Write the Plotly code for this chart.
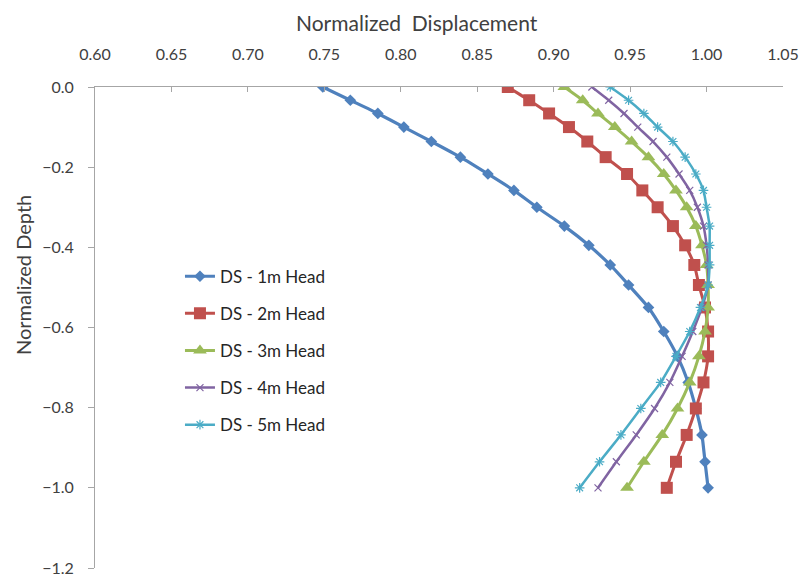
import plotly.graph_objects as go

depth = [0, -0.033, -0.066, -0.10, -0.136, -0.175, -0.217, -0.258, -0.30, -0.347, -0.395,
         -0.444, -0.494, -0.55, -0.61, -0.672, -0.737, -0.802, -0.868, -0.935, -1.0]

ds_1m = [0.749, 0.767, 0.785, 0.802, 0.820, 0.839, 0.857, 0.874, 0.889, 0.907, 0.923,
         0.937, 0.949, 0.962, 0.972, 0.981, 0.988, 0.993, 0.997, 0.999, 1.001]
ds_2m = [0.870, 0.884, 0.897, 0.910, 0.922, 0.934, 0.948, 0.958, 0.968, 0.978, 0.986,
         0.992, 0.995, 0.999, 1.001, 1.001, 0.998, 0.993, 0.987, 0.980, 0.974]
ds_3m = [0.907, 0.919, 0.929, 0.940, 0.951, 0.962, 0.972, 0.980, 0.987, 0.993, 0.997,
         1.000, 1.001, 1.001, 0.999, 0.995, 0.989, 0.981, 0.971, 0.959, 0.948]
ds_4m = [0.925, 0.936, 0.946, 0.955, 0.965, 0.974, 0.982, 0.989, 0.994, 0.998, 1.000,
         1.001, 1.001, 0.997, 0.991, 0.984, 0.976, 0.966, 0.954, 0.941, 0.929]
ds_5m = [0.937, 0.949, 0.959, 0.968, 0.978, 0.986, 0.993, 0.998, 1.000, 1.002, 1.002,
         1.002, 1.001, 0.996, 0.989, 0.980, 0.970, 0.957, 0.944, 0.930, 0.917]

names = ["DS - 1m Head", "DS - 2m Head", "DS - 3m Head", "DS - 4m Head", "DS - 5m Head"]
series = [ds_1m, ds_2m, ds_3m, ds_4m, ds_5m]
colors = ["#4F81BD", "#C0504D", "#9BBB59", "#8064A2", "#4BACC6"]
symbols = ["diamond", "square", "triangle-up", "x-thin-open", "asterisk-open"]
sizes = [9, 12, 12, 7, 8]
widths = [3.2, 3, 3, 2.5, 2.5]

FONT = "Lato"
fig = go.Figure()
for i, (nm, xs) in enumerate(zip(names, series)):
    open_sym = symbols[i].endswith("open")
    fig.add_trace(go.Scatter(
        x=xs, y=depth, name=nm, mode="lines+markers", legendgroup=f"g{i}",
        line=dict(color=colors[i], width=widths[i], shape="spline", smoothing=0.5),
        marker=dict(symbol=symbols[i], size=sizes[i], color=colors[i],
                    line=dict(color=colors[i], width=1.2 if open_sym else 0)),
    ))

fig.update_layout(
    width=807, height=580,
    margin=dict(l=87, r=32, t=79, b=20),
    paper_bgcolor="white", plot_bgcolor="white",
    font=dict(family=FONT, color="#404040", size=16),
    showlegend=True,
    legend=dict(x=0.1235, y=0.643, xanchor="left", yanchor="top",
                bgcolor="rgba(255,255,255,0)", tracegroupgap=12,
                font=dict(size=17, color="#262626", family=FONT)),
    xaxis=dict(range=[0.60, 1.05], side="top", dtick=0.05, tickformat=".2f",
               showgrid=False, zeroline=False, showline=True, linecolor="#A6A6A6",
               linewidth=1, ticks="inside", ticklen=5, tickcolor="#A6A6A6",
               ticklabelstandoff=20, automargin=False,
               tickfont=dict(size=16, color="#404040")),
    yaxis=dict(range=[-1.2, 0], dtick=0.2, tickformat=".1f",
               showgrid=False, zeroline=False, showline=True, linecolor="#A6A6A6",
               linewidth=1, ticks="outside", ticklen=6, tickcolor="#A6A6A6",
               ticklabelstandoff=11, automargin=False,
               tickfont=dict(size=16, color="#404040")),
    annotations=[
        dict(text="Normalized  Displacement", xref="paper", yref="paper",
             x=0.468, y=560 / 481, xanchor="center", yanchor="top",
             showarrow=False, font=dict(size=21, color="#404040", family=FONT)),
        dict(text="Normalized Depth", xref="paper", yref="paper",
             x=-0.1047, y=0.609, xanchor="center", yanchor="middle",
             textangle=-90, showarrow=False, font=dict(size=20, color="#404040", family=FONT)),
    ],
)

fig.write_html("out.html")
